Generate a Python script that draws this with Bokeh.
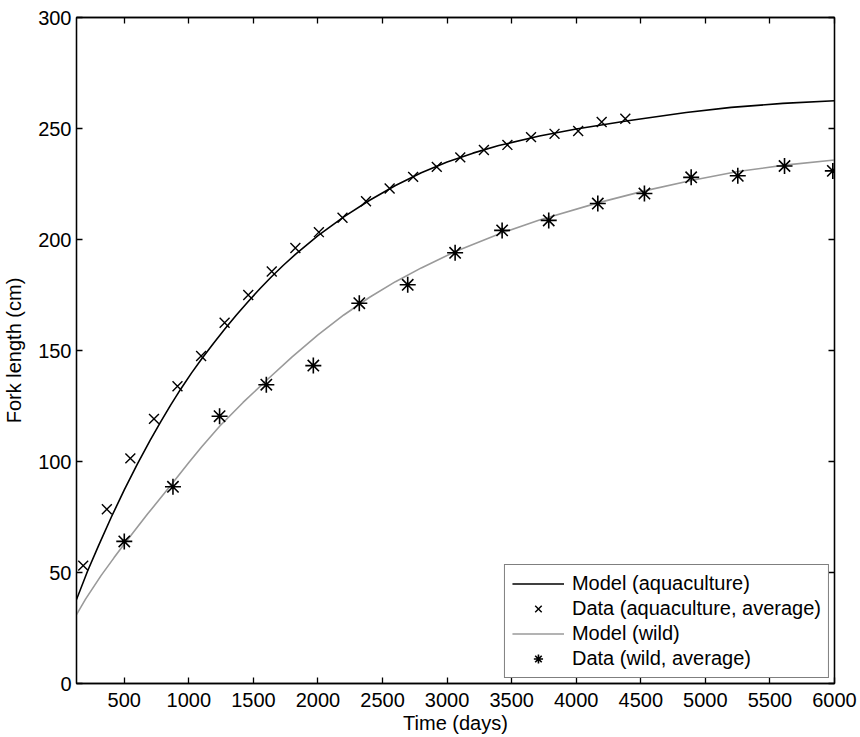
from bokeh.plotting import figure
from bokeh.models import LinearAxis, FixedTicker, Range1d
from bokeh.embed import file_html
from bokeh.resources import INLINE

# ---- data ----
aqua_days = [182, 365, 547, 730, 912, 1095, 1277, 1460, 1642, 1825, 2007, 2190,
             2372, 2555, 2737, 2920, 3102, 3285, 3467, 3650, 3832, 4015, 4197, 4380]
aqua_len = [53.1, 78.5, 101.4, 119.2, 133.9, 147.5, 162.5, 175.0, 185.6, 196.2, 203.3, 209.8,
            217.2, 223.0, 228.2, 232.7, 237.0, 240.3, 242.6, 246.1, 247.6, 248.9, 252.9, 254.4]

wild_days = [500, 877, 1238, 1600, 1964, 2320, 2695, 3062, 3426, 3787, 4167, 4528,
             4890, 5251, 5613, 5987]
wild_len = [64.0, 88.6, 120.4, 134.6, 143.2, 171.3, 179.6, 194.0, 204.1, 208.6, 216.2, 220.7,
            228.0, 228.7, 233.1, 230.9]

model_aqua_days = [130, 216, 300, 400, 500, 603, 700, 784, 860, 939, 1020, 1100, 1190, 1280,
                   1370, 1460, 1550, 1640, 1730, 1825, 2000, 2200, 2400, 2600, 2800, 3000,
                   3200, 3400, 3715, 4000, 4400, 4851, 5200, 5600, 6000]
model_aqua_len = [37.8, 50.7, 62.0, 75.0, 87.2, 99.0, 109.5, 118.1, 125.5, 132.8, 139.8, 146.3,
                  153.2, 159.8, 166.1, 172.1, 177.8, 183.2, 188.3, 193.3, 201.7, 210.2, 217.7,
                  224.3, 230.1, 234.9, 238.9, 242.3, 246.6, 249.8, 253.5, 257.2, 259.5, 261.3,
                  262.5]

model_wild_days = [130, 200, 320, 420, 500, 680, 862, 1000, 1100, 1240, 1420, 1600, 1800, 2000,
                   2200, 2400, 2600, 2800, 3064, 3426, 3715, 4167, 4528, 4890, 5251, 5613, 6000]
model_wild_len = [31.0, 38.0, 48.6, 56.6, 62.8, 76.3, 89.4, 99.5, 106.6, 116.0, 126.6, 136.5,
                  147.1, 157.0, 166.0, 174.0, 181.0, 187.2, 194.6, 203.0, 208.8, 216.5, 221.9,
                  226.6, 230.6, 233.5, 235.8]

x_ticks = [500, 1000, 1500, 2000, 2500, 3000, 3500, 4000, 4500, 5000, 5500, 6000]
y_ticks = [0, 50, 100, 150, 200, 250, 300]

FONT = "Liberation Sans"
FS = "20px"

p = figure(width=858, height=736, output_backend="svg", toolbar_location=None,
           x_range=Range1d(130, 6000), y_range=Range1d(0, 300),
           min_border_left=76, min_border_right=24, min_border_top=17, min_border_bottom=10,
           x_axis_label="Time (days)", y_axis_label="Fork length (cm)")
p.xgrid.visible = False
p.ygrid.visible = False
p.outline_line_color = "black"
p.outline_line_width = 1.3

for ax, ticks in ((p.xaxis[0], x_ticks), (p.yaxis[0], y_ticks)):
    ax.ticker = FixedTicker(ticks=ticks)
    ax.minor_tick_line_color = None
    ax.major_tick_in = 6
    ax.major_tick_out = 0
    ax.axis_line_color = "black"
    ax.axis_line_width = 1.3
    ax.major_tick_line_width = 1.3
    ax.major_label_text_font = FONT
    ax.major_label_text_font_size = FS
    ax.major_label_text_color = "black"
    ax.axis_label_text_font = FONT
    ax.axis_label_text_font_size = FS
    ax.axis_label_text_font_style = "normal"
    ax.axis_label_text_color = "black"

p.xaxis[0].major_label_standoff = 9
p.xaxis[0].axis_label_standoff = 2
p.yaxis[0].major_label_standoff = 5
p.yaxis[0].axis_label_standoff = 10

# mirrored tick-only axes (box style), labels not drawn
top = LinearAxis(ticker=FixedTicker(ticks=x_ticks))
right = LinearAxis(ticker=FixedTicker(ticks=y_ticks))
for ax in (top, right):
    ax.minor_tick_line_color = None
    ax.major_tick_in = 6
    ax.major_tick_out = 0
    ax.major_label_text_font_size = "1px"
    ax.major_label_text_color = None
    ax.major_label_text_alpha = 0
    ax.major_label_standoff = 0
    ax.axis_line_color = "black"
    ax.axis_line_width = 1.3
    ax.major_tick_line_width = 1.3
p.add_layout(top, "above")
p.add_layout(right, "right")

p.line(model_aqua_days, model_aqua_len, line_color="black", line_width=1.6,
       legend_label="Model (aquaculture)")
p.scatter(aqua_days, aqua_len, marker="x", size=14, line_color="black", line_width=1.4,
          legend_label="Data (aquaculture, average)")
p.line(model_wild_days, model_wild_len, line_color="#9a9a9a", line_width=1.6,
       legend_label="Model (wild)")
p.scatter(wild_days, wild_len, marker="asterisk", size=16, line_color="black", line_width=1.6,
          legend_label="Data (wild, average)")

lg = p.legend[0]
lg.location = "bottom_right"
lg.margin = 5
lg.padding = 7
lg.spacing = 2
lg.glyph_width = 52
lg.glyph_height = 23
lg.label_height = 23
lg.label_standoff = 8
lg.label_text_font = FONT
lg.label_text_font_size = FS
lg.label_text_color = "black"
lg.border_line_color = "black"
lg.border_line_width = 1
lg.background_fill_alpha = 1

open("out.html", "w").write(file_html(p, INLINE))
